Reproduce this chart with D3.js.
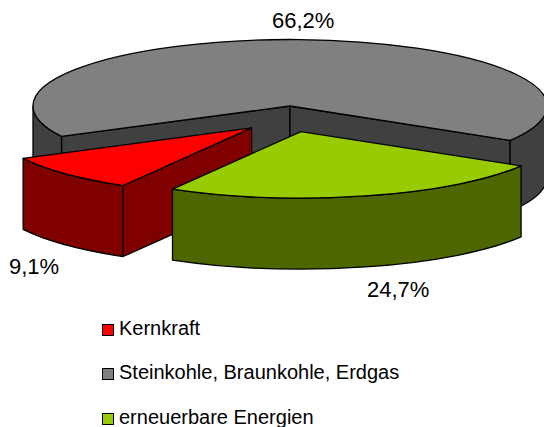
<!DOCTYPE html>
<html>
<head>
<meta charset="utf-8">
<script src="https://cdnjs.cloudflare.com/ajax/libs/d3/7.8.5/d3.min.js"></script>
<style>
html, body { margin: 0; padding: 0; background: #fff; }
svg { display: block; }
text { font-family: "Liberation Sans", Arial, sans-serif; fill: #000; }
</style>
</head>
<body>
<div id="chart"></div>
<script>
var categories = ["Kernkraft", "Steinkohle, Braunkohle, Erdgas", "erneuerbare Energien"];
var shares = [9.1, 66.2, 24.7];
var shareLabels = ["9,1%", "66,2%", "24,7%"];
var topColors = ["#ff0000", "#808080", "#99cc00"];
var wallColors = ["#800000", "#404040", "#4d6600"];

var width = 544, height = 427;
var cx = 290, cy = 106;      // apex of the undisturbed pie
var rx = 257, ry = 66.5;     // ellipse of the top face
var depth = 71;

// how far each slice is pulled out, and the flatter tilt that pull gets
var explode = [53, 0, 44];
var explodeTilt = 0.6;

// where the percent labels sit (start anchored)
var labelPos = [[9, 274], [272, 28], [367, 297]];
var legendX = 102, legendTextX = 119, legendBase = [335, 379, 424];

var toRad = Math.PI / 180;

var pie = d3.pie().sort(null)
    .startAngle(210 * toRad)
    .endAngle(570 * toRad);

var slices = pie(shares);

var svg = d3.select("#chart").append("svg")
    .attr("width", width)
    .attr("height", height);

function pt(t, ox, oy) {
    return [ox + rx * Math.sin(t), oy - ry * Math.cos(t)];
}

// elliptical arc from t0 to t1, clockwise on screen
function arcTo(t1, ox, oy) {
    var p = pt(t1, ox, oy);
    return "A" + rx + "," + ry + " 0 0 1 " + p[0] + "," + p[1];
}

// arc that may be longer than a half turn needs the large flag
function topFace(d, ox, oy) {
    var a = pt(d.startAngle, ox, oy);
    var b = pt(d.endAngle, ox, oy);
    var large = (d.endAngle - d.startAngle) > Math.PI ? 1 : 0;
    return "M" + ox + "," + oy + "L" + a[0] + "," + a[1] +
        "A" + rx + "," + ry + " 0 " + large + " 1 " + b[0] + "," + b[1] + "Z";
}

function sideWall(t, ox, oy) {
    var p = pt(t, ox, oy);
    return "M" + ox + "," + oy + "L" + p[0] + "," + p[1] +
        "L" + p[0] + "," + (p[1] + depth) + "L" + ox + "," + (oy + depth) + "Z";
}

// a cut face shows only if the top face lies above its edge
function visibleSides(d) {
    var sides = [];
    if (Math.sin(d.startAngle) < 0) sides.push(d.startAngle);
    if (Math.sin(d.endAngle) > 0) sides.push(d.endAngle);
    return sides;
}

// front part of the rim: only angles from 90 to 270 degrees face the viewer
function rimParts(d) {
    var parts = [];
    var turns = [-360, 0, 360];
    turns.forEach(function(k) {
        var lo = Math.max(d.startAngle, (90 + k) * toRad);
        var hi = Math.min(d.endAngle, (270 + k) * toRad);
        if (hi > lo) parts.push([lo, hi]);
    });
    return parts;
}

function rimWall(part, ox, oy) {
    var a = pt(part[0], ox, oy);
    var b = pt(part[1], ox, oy);
    return "M" + a[0] + "," + a[1] + arcTo(part[1], ox, oy) +
        "L" + b[0] + "," + (b[1] + depth) +
        "A" + rx + "," + ry + " 0 0 0 " + a[0] + "," + (a[1] + depth) + "Z";
}

// painter's order: grey body first, then red, then green
var order = [1, 0, 2];

order.forEach(function(i) {
    var d = slices[i];
    var mid = (d.startAngle + d.endAngle) / 2;
    var ox = cx + explode[i] * Math.sin(mid);
    var oy = cy - explode[i] * explodeTilt * Math.cos(mid);

    var g = svg.append("g")
        .attr("class", "slice")
        .attr("stroke", "#000")
        .attr("stroke-width", 1.3)
        .attr("stroke-linejoin", "round");

    g.selectAll("path.side")
        .data(visibleSides(d))
        .enter().append("path")
        .attr("class", "side")
        .attr("fill", wallColors[i])
        .attr("d", function(t) { return sideWall(t, ox, oy); });

    g.selectAll("path.rim")
        .data(rimParts(d))
        .enter().append("path")
        .attr("class", "rim")
        .attr("fill", wallColors[i])
        .attr("d", function(p) { return rimWall(p, ox, oy); });

    g.append("path")
        .attr("class", "top")
        .attr("fill", topColors[i])
        .attr("d", topFace(d, ox, oy));
});

// percent labels
svg.selectAll("text.pct")
    .data(shareLabels)
    .enter().append("text")
    .attr("class", "pct")
    .attr("x", function(d, i) { return labelPos[i][0]; })
    .attr("y", function(d, i) { return labelPos[i][1]; })
    .style("font-size", "22px")
    .text(function(d) { return d; });

// legend
var legend = svg.selectAll("g.legend")
    .data(categories)
    .enter().append("g")
    .attr("class", "legend");

legend.append("rect")
    .attr("x", legendX + 0.5)
    .attr("y", function(d, i) { return legendBase[i] - 10.5; })
    .attr("width", 11)
    .attr("height", 11)
    .attr("fill", function(d, i) { return topColors[i]; })
    .attr("stroke", "#000")
    .attr("stroke-width", 1);

legend.append("text")
    .attr("x", legendTextX)
    .attr("y", function(d, i) { return legendBase[i]; })
    .style("font-size", "20px")
    .text(function(d) { return d; });
</script>
</body>
</html>
